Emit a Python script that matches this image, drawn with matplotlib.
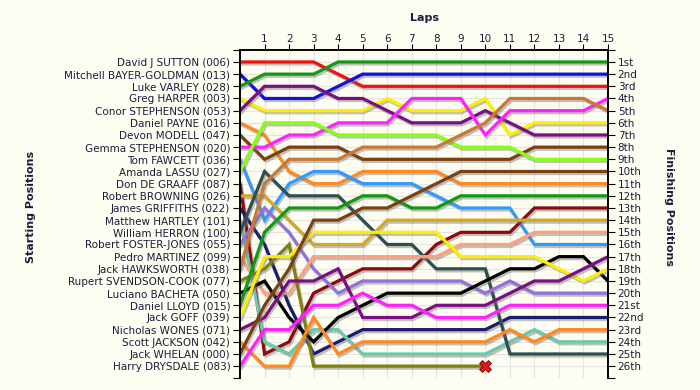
import numpy as np
import matplotlib
matplotlib.use("Agg")
import matplotlib.pyplot as plt
import matplotlib.patheffects as pe

nan = np.nan

# drivers in starting order
drivers = [
    "David J SUTTON (006)", "Mitchell BAYER-GOLDMAN (013)", "Luke VARLEY (028)",
    "Greg HARPER (003)", "Conor STEPHENSON (053)", "Daniel PAYNE (016)",
    "Devon MODELL (047)", "Gemma STEPHENSON (020)", "Tom FAWCETT (036)",
    "Amanda LASSU (027)", "Don DE GRAAFF (087)", "Robert BROWNING (026)",
    "James GRIFFITHS (022)", "Matthew HARTLEY (101)", "William HERRON (100)",
    "Robert FOSTER-JONES (055)", "Pedro MARTINEZ (099)", "Jack HAWKSWORTH (038)",
    "Rupert SVENDSON-COOK (077)", "Luciano BACHETA (050)", "Daniel LLOYD (015)",
    "Jack GOFF (039)", "Nicholas WONES (071)", "Scott JACKSON (042)",
    "Jack WHELAN (000)", "Harry DRYSDALE (083)",
]

laps = list(range(16))

# position of each driver after every lap (lap 0 = grid)
positions = [
    [1, 1, 1, 1, 2, 3, 3, 3, 3, 3, 3, 3, 3, 3, 3, 3],
    [2, 4, 4, 4, 3, 2, 2, 2, 2, 2, 2, 2, 2, 2, 2, 2],
    [3, 2, 2, 2, 1, 1, 1, 1, 1, 1, 1, 1, 1, 1, 1, 1],
    [4, 5, 5, 5, 5, 5, 4, 5, 5, 5, 4, 7, 6, 6, 6, 6],
    [5, 3, 3, 3, 4, 4, 5, 6, 6, 6, 5, 6, 7, 7, 7, 7],
    [6, 7, 10, 11, 11, 10, 10, 10, 10, 11, 11, 11, 11, 11, 11, 11],
    [7, 9, 8, 8, 8, 9, 9, 9, 9, 9, 9, 9, 8, 8, 8, 8],
    [8, 8, 7, 7, 6, 6, 6, 4, 4, 4, 7, 5, 5, 5, 5, 4],
    [9, 14, 11, 10, 10, 11, 11, 11, 12, 13, 13, 13, 16, 16, 16, 16],
    [10, 6, 6, 6, 7, 7, 7, 7, 7, 8, 8, 8, 9, 9, 9, 9],
    [11, 25, 24, 20, 19, 18, 18, 18, 16, 15, 15, 15, 13, 13, 13, 13],
    [12, 12, 14, 16, 16, 16, 14, 14, 14, 14, 14, 14, 14, 14, 14, 14],
    [13, 16, 21, 25, 24, 23, 23, 23, 23, 23, 23, 22, 22, 22, 22, 22],
    [14, 24, 25, 23, 23, 25, 25, 25, 25, 25, 25, 24, 23, 24, 24, 24],
    [15, 10, 12, 12, 12, 14, 16, 16, 18, 18, 18, 25, 25, 25, 25, 25],
    [16, 13, 15, 18, 20, 19, 19, 19, 19, 19, 20, 19, 20, 20, 20, 20],
    [17, 20, 20, 17, 17, 17, 17, 17, 17, 16, 16, 16, 15, 15, 15, 15],
    [18, 11, 9, 9, 9, 8, 8, 8, 8, 7, 6, 4, 4, 4, 4, 5],
    [19, 18, 16, 26, 26, 26, 26, 26, 26, 26, 26, nan, nan, nan, nan, nan],
    [20, 19, 22, 24, 22, 21, 20, 20, 20, 20, 19, 18, 18, 17, 17, 19],
    [21, 15, 13, 13, 13, 12, 12, 13, 13, 12, 12, 12, 12, 12, 12, 12],
    [22, 17, 17, 15, 15, 15, 15, 15, 15, 17, 17, 17, 17, 18, 19, 18],
    [23, 22, 19, 19, 18, 22, 22, 22, 21, 21, 21, 20, 19, 19, 18, 17],
    [24, 26, 26, 22, 25, 24, 24, 24, 24, 24, 24, 23, 24, 23, 23, 23],
    [25, 21, 18, 14, 14, 13, 13, 12, 11, 10, 10, 10, 10, 10, 10, 10],
    [26, 23, 23, 21, 21, 20, 21, 21, 22, 22, 22, 21, 21, 21, 21, 21],
]

colors = [
    "#ee1111", "#1111dd", "#119911", "#ffee00", "#7a1080", "#ff8820",
    "#7a4010", "#ff22ff", "#3399ff", "#88ff11", "#8b0a0a", "#d4a820",
    "#1c1c6e", "#6cc8a8", "#2f4f4f", "#9370db", "#ffa07a", "#cc7733",
    "#808010", "#000000", "#119911", "#ffee00", "#7a1080", "#ff8820",
    "#7a4010", "#ff22ff",
]

dnf_lap = 10
dnf_pos = 26

finish_labels = ["1st", "2nd", "3rd"] + [f"{i}th" for i in range(4, 21)] + \
    ["21st", "22nd", "23rd", "24th", "25th", "26th"]

bg = "#fdfdf2"
txt = "#1c1c3c"

fig = plt.figure(figsize=(7, 3.9), dpi=100, facecolor=bg)
ax = fig.add_axes([0.3429, 0.03, 0.8686 - 0.3429, 0.8723 - 0.03])
ax.set_facecolor(bg)

for y in range(1, 27):
    ax.axhline(y, color="#e4e4e4", lw=0.8, zorder=0)
for x in laps[1:-1]:
    ax.axvline(x, color="#e4e4e4", lw=0.8, zorder=0)

shadow = [pe.SimpleLineShadow(offset=(1, -1.5), shadow_color="#777777", alpha=0.45),
          pe.Normal()]
for pos, c in zip(positions, colors):
    ax.plot(laps, pos, color=c, lw=2.3, solid_joinstyle="miter",
            path_effects=shadow, zorder=2)

ax.plot(dnf_lap, dnf_pos, marker="X", color="#ee1111", markeredgecolor="#661111",
        markeredgewidth=0.6, markersize=8, zorder=4)

ax.set_xlim(0, 15)
ax.set_ylim(27, 0)

ax.xaxis.tick_top()
ax.set_xticks(laps[1:])
ax.set_xticklabels([str(i) for i in laps[1:]], fontsize=7.5, color=txt)
ax.tick_params(axis="x", direction="out", length=4, pad=0.5, color="black")
ax.set_xlabel("Laps", fontsize=8, fontweight="bold", color=txt, labelpad=9)
ax.xaxis.set_label_position("top")

ax.set_yticks(range(0, 28))
ax.set_yticklabels([""] + drivers + [""], fontsize=7.5, color=txt)
ax.tick_params(axis="y", direction="out", length=5, pad=2)

ax2 = ax.twinx()
ax2.set_ylim(27, 0)
ax2.set_yticks(range(0, 28))
ax2.set_yticklabels([""] + finish_labels + [""], fontsize=7.5, color=txt)
ax2.tick_params(axis="y", direction="out", length=5, pad=2)

for a in (ax, ax2):
    a.spines["bottom"].set_visible(False)
    for s in ("left", "right", "top"):
        a.spines[s].set_color("black")
        a.spines[s].set_linewidth(1.2)

fig.text(0.045, 0.47, "Starting Positions", rotation=90, fontsize=8,
         fontweight="bold", color=txt, ha="center", va="center")
fig.text(0.955, 0.47, "Finishing Positions", rotation=270, fontsize=8,
         fontweight="bold", color=txt, ha="center", va="center")

fig.savefig("out.png", dpi=100, facecolor=bg)
